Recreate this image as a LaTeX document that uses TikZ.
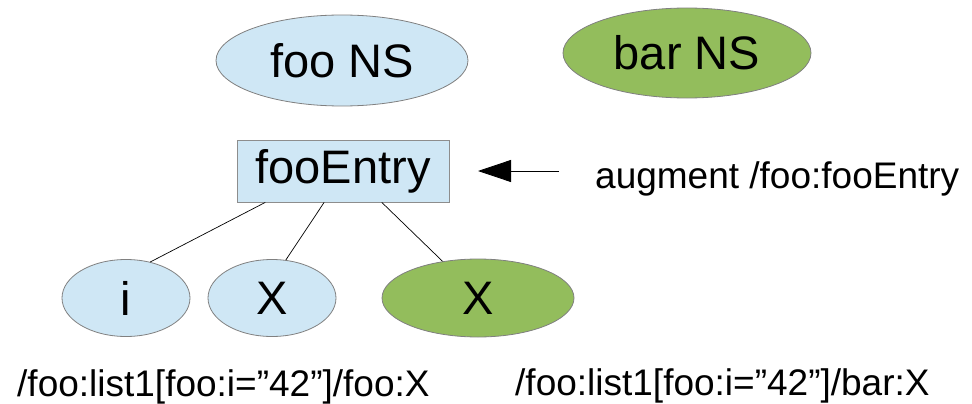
\documentclass[tikz,border=0pt]{standalone}
\usepackage{fontspec}
\setmainfont{Liberation Sans}
\usetikzlibrary{arrows.meta,shapes.geometric}
\definecolor{paleblue}{RGB}{207,231,245}
\definecolor{leafgreen}{RGB}{147,189,92}
\definecolor{rimgray}{RGB}{128,128,128}
\tikzset{
  big/.style={font=\fontsize{47}{52}\selectfont},
  small/.style={font=\fontsize{37}{42}\selectfont, inner sep=0pt},
  blueell/.style={ellipse, draw=rimgray, line width=0.8pt, fill=paleblue, inner sep=0pt, big},
  greenell/.style={ellipse, draw=rimgray, line width=0.8pt, fill=leafgreen, inner sep=0pt, big},
  entrybox/.style={rectangle, draw=rimgray!90, line width=0.8pt, fill=paleblue, inner sep=0pt, big},
  link/.style={draw=black, line width=0.7pt},
}
\begin{document}
\begin{tikzpicture}[x=1pt,y=-1pt]
\useasboundingbox (0,0) rectangle (972,404);
\node[blueell, minimum width=252pt, minimum height=91pt] (fooNS) at (342,60.5) {foo NS};
\node[greenell, minimum width=248pt, minimum height=90pt] (barNS) at (687,53) {bar NS};
\node[entrybox, minimum width=212pt, minimum height=62pt] (fooEntry) at (343,171) {fooEntry};
\node[blueell, minimum width=128pt, minimum height=77pt] (ni) at (126,298) {i};
\node[blueell, minimum width=128pt, minimum height=77pt] (nx1) at (272,298) {X};
\node[greenell, minimum width=192pt, minimum height=78pt] (nx2) at (478,298) {X};
\node[small, anchor=base west] (aug) at (595,188) {augment /foo:fooEntry};
\coordinate (augtail) at (559,171);
\draw[line width=0.8pt, -{Triangle[length=33pt,width=22pt]}] (augtail) -- (fooEntry.east -| 478,0);
\draw[link] (fooEntry.202.2) -- (ni.56.3);
\draw[link] (fooEntry.239.9) -- (nx1.70);
\draw[link] (fooEntry.321.5) -- (nx2.134.6);
\node[small, anchor=base west] (path1) at (17,396) {/foo:list1[foo:i=”42”]/foo:X};
\node[small, anchor=base west] (path2) at (515,395) {/foo:list1[foo:i=”42”]/bar:X};
\end{tikzpicture}
\end{document}
